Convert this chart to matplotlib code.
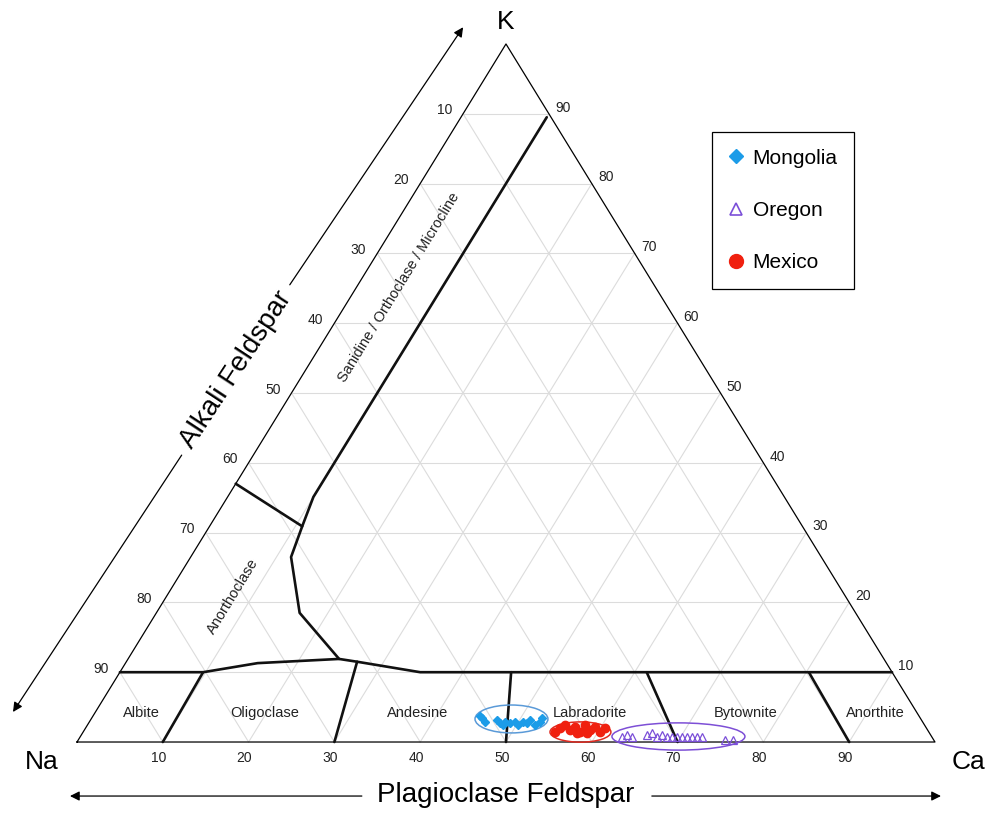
import matplotlib.pyplot as plt
from matplotlib.patches import Ellipse
from matplotlib.lines import Line2D

plt.rcParams['font.family'] = ['Liberation Sans', 'DejaVu Sans']

# feldspar compositions, Ca % and K % (Na is what is left)
mongolia_ca = [45.1, 45.5, 46.1, 47.4, 47.9, 48.4, 48.4, 49.1, 49.6, 50.2, 50.5, 51.1, 51.2, 52.2, 52.5, 52.5]
mongolia_k = [3.7, 3.4, 2.9, 3.2, 2.7, 2.9, 2.4, 2.7, 2.9, 2.4, 2.9, 2.7, 3.2, 2.4, 2.9, 3.4]
oregon_ca = [63.2, 63.6, 64.3, 65.9, 66.4, 67.2, 67.7, 68.4, 69.0, 69.6, 70.2, 70.7, 71.3, 71.9, 72.5, 75.4, 76.3]
oregon_k = [0.7, 1.0, 0.7, 1.0, 1.3, 0.7, 1.0, 0.7, 0.7, 0.7, 0.7, 0.7, 0.7, 0.7, 0.7, 0.3, 0.3]
mexico_ca = [55.0, 55.3, 55.7, 56.6, 57.0, 57.6, 57.9, 58.0, 58.8, 58.9, 59.3, 60.2, 60.5]
mexico_k = [1.4, 2.0, 2.4, 1.7, 2.1, 1.3, 1.4, 2.4, 1.3, 1.7, 2.1, 1.4, 2.0]

# field boundaries (Ca %, K %)
plag_top_ca = [0, 9.7, 15.4, 24.6, 26.9, 35.0, 90]
plag_top_k = [10, 10, 11.3, 11.9, 11.5, 10, 10]
alkali_ca = [24.6, 16.7, 11.7, 10.8, 10.0, 10.0]
alkali_k = [11.9, 18.5, 26.5, 30.9, 35.1, 89.5]
anortho_ca = [0, 10.8]
anortho_k = [37, 30.9]
# plagioclase dividers: Ca at the base, then Ca and K where they end on top
div_base = [10, 30, 50, 70, 90]
div_top_ca = [9.7, 26.9, 45.6, 61.4, 80.3]
div_top_k = [10, 11.5, 10, 10, 10]

ticks = [10, 20, 30, 40, 50, 60, 70, 80, 90]
plag_names = ['Albite', 'Oligoclase', 'Andesine', 'Labradorite', 'Bytownite', 'Anorthite']
plag_name_ca = [5.4, 19.8, 37.6, 57.7, 75.8, 90.9]


def xy(ca, k):
    # x runs from Na to Ca along the base, y is K
    return [c + kk / 2 for c, kk in zip(ca, k)], list(k)


fig = plt.figure(figsize=(9.91, 8.13), dpi=100)
ax = fig.add_axes([0, 0, 1, 1])
ax.set_xlim(-8.974, 106.53)
ax.set_ylim(-10.17, 106.3)
ax.axis('off')

grid = dict(color='#dcdcdc', lw=0.8, zorder=1)
for t in ticks:
    ax.plot(*xy([0, 100 - t], [t, t]), **grid)
    ax.plot(*xy([t, t], [0, 100 - t]), **grid)
    ax.plot(*xy([100 - t, 0], [0, 100 - t]), **grid)

ax.plot(*xy([0, 100, 0, 0], [0, 0, 100, 0]), color='black', lw=0.9, zorder=2)

thick = dict(color='#111111', lw=1.9, zorder=3, solid_capstyle='round')
ax.plot(*xy(plag_top_ca, plag_top_k), **thick)
ax.plot(*xy(alkali_ca, alkali_k), **thick)
ax.plot(*xy(anortho_ca, anortho_k), **thick)
for b, tc, tkk in zip(div_base, div_top_ca, div_top_k):
    ax.plot(*xy([b, tc], [0, tkk]), **thick)

tk = dict(fontsize=10, color='#222222', ha='center', va='center', textcoords='offset points')
for t in ticks:
    ax.annotate(str(t), ((100 - t) / 2, 100 - t), xytext=(-13.5, 2.5), **tk)
    ax.annotate(str(t), (100 - t / 2, t), xytext=(10, 4.5), **tk)
    ax.annotate(str(t), (t, 0), xytext=(-3, -11.5), **tk)

for name, c in zip(plag_names, plag_name_ca):
    ax.text(c + 2.1, 4.2, name, fontsize=10.5, color='#222222', ha='center', va='center')
ax.text(37.5, 65.2, 'Sanidine / Orthoclase / Microcline', fontsize=10.5, rotation=58.5,
        ha='center', va='center', color='#222222')
ax.text(18.2, 20.9, 'Anorthoclase', fontsize=10.5, rotation=58.6,
        ha='center', va='center', color='#222222')

ax.text(50, 103.2, 'K', fontsize=19, ha='center', va='center')
ax.text(-4.08, -2.87, 'Na', fontsize=19, ha='center', va='center')
ax.text(103.85, -2.87, 'Ca', fontsize=19, ha='center', va='center')

arr = dict(arrowstyle='-|>', color='black', lw=0.9, mutation_scale=14, shrinkA=0, shrinkB=0)
ax.text(50, -7.6, 'Plagioclase Feldspar', fontsize=20, ha='center', va='center')
ax.annotate('', xy=(-0.82, -7.74), xytext=(33.2, -7.74), arrowprops=arr)
ax.annotate('', xy=(100.7, -7.74), xytext=(67.0, -7.74), arrowprops=arr)
ax.text(18.5, 53.3, 'Alkali Feldspar', fontsize=20, rotation=56.7, ha='center', va='center')
ax.annotate('', xy=(45.0, 102.4), xytext=(24.8, 65.5), arrowprops=arr)
ax.annotate('', xy=(-7.46, 4.3), xytext=(12.2, 41.1), arrowprops=arr)

ax.add_patch(Ellipse((50.64, 3.30), 8.5, 4.0, fill=False, ec='#5a9ad8', lw=1.1, zorder=4))
ax.add_patch(Ellipse((58.68, 1.43), 7.1, 2.9, fill=False, ec='#e02a20', lw=1.1, zorder=4))
ax.add_patch(Ellipse((70.1, 0.79), 15.5, 3.9, fill=False, ec='#7d4fd6', lw=1.1, zorder=4))

blue, purple, red = '#1c9ce8', '#7b4fd8', '#f0200f'
ax.plot(*xy(mongolia_ca, mongolia_k), 'D', color=blue, ms=4.2, zorder=5)
ax.plot(*xy(oregon_ca, oregon_k), '^', mfc='none', mec=purple, mew=0.9, ms=6, zorder=5)
ax.plot(*xy(mexico_ca, mexico_k), 'o', color=red, ms=6, zorder=5)

handles = [
    Line2D([], [], ls='none', marker='D', color=blue, ms=7, label='Mongolia'),
    Line2D([], [], ls='none', marker='^', mfc='none', mec=purple, mew=1.2, ms=9, label='Oregon'),
    Line2D([], [], ls='none', marker='o', color=red, ms=10, label='Mexico'),
]
leg = ax.legend(handles=handles, loc='upper left', bbox_to_anchor=(712 / 991, 1 - 132 / 813),
                bbox_transform=fig.transFigure, fontsize=15, frameon=True, fancybox=False,
                edgecolor='black', framealpha=1, borderpad=0.8, labelspacing=1.6,
                handlelength=0.7, handletextpad=0.45, borderaxespad=0)
leg.get_frame().set_linewidth(0.9)

fig.savefig('out.png', dpi=100)
